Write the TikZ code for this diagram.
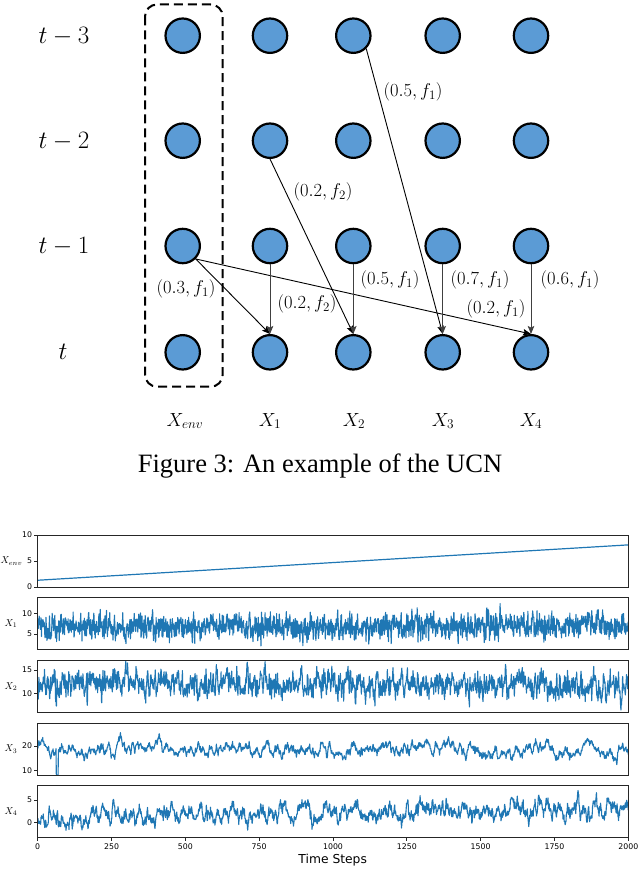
\RequirePackage{fix-cm}
\documentclass[tikz,border=0pt]{standalone}
\usepackage{fontspec}
\usetikzlibrary{arrows.meta}
\newfontfamily\capfont{Liberation Serif}
\newfontfamily\plotfont{DejaVu Sans}
\definecolor{nodeblue}{HTML}{5B9BD5}
\definecolor{tabblue}{HTML}{1F77B4}
\begin{document}
\begin{tikzpicture}[x=1pt,y=-1pt,
  var/.style={circle,draw=black,line width=2.2pt,fill=nodeblue,minimum size=34.4pt,inner sep=0pt},
  rowlab/.style={font=\fontsize{25}{30}\selectfont,inner sep=0pt},
  collab/.style={font=\fontsize{19}{22}\selectfont,inner sep=0pt},
  elab/.style={font=\fontsize{18.5}{22}\selectfont,inner sep=0pt},
  tip/.style={-{Stealth[length=8pt,width=6.5pt,inset=1.5pt]}},
  edge/.style={tip,line width=0.9pt},
  vedge/.style={tip,line width=1pt,draw=black!75},
  envbox/.style={draw=black,line width=2pt,dash pattern=on 9pt off 5pt,rounded corners=12pt},
  capt/.style={font=\capfont\fontsize{26.5}{30}\selectfont,inner sep=0pt},
  frame/.style={draw=black!85,line width=0.8pt},
  ser/.style={draw=tabblue,line width=1.1pt,line join=round},
  ytl/.style={font=\plotfont\fontsize{7.8}{9}\selectfont,anchor=east,inner sep=0pt,xshift=-5.5pt},
  xtl/.style={font=\plotfont\fontsize{7.8}{9}\selectfont,anchor=north,inner sep=0pt,yshift=-5.5pt},
  ylab/.style={font=\fontsize{10}{12}\selectfont,inner sep=0pt},
  xlab/.style={font=\plotfont\fontsize{12.3}{14}\selectfont,inner sep=0pt},
  tk/.style={draw=black!85,line width=0.7pt},
]
\useasboundingbox (0,0) rectangle (640,869);

% ---------- graph ----------
\draw[envbox] (145,4.5) rectangle (222.7,386.7);
\foreach \n/\x in {e/182.7,a/270,b/353.3,c/442.7,d/531}{
  \foreach \r/\y in {3/35.7,2/140.7,1/246,0/352.3}{
    \node[var] (\n\r) at (\x,\y) {};
  }
}
\node[rowlab] (r3) at (64,36) {$t-3$};
\node[rowlab] (r2) at (64,141) {$t-2$};
\node[rowlab] (r1) at (64,246) {$t-1$};
\node[rowlab] (r0) at (63,352) {$t$};

\node[collab] (ce) at (185,421) {$X_{env}$};
\node[collab] (ca) at (270,421) {$X_1$};
\node[collab] (cb) at (354,421) {$X_2$};
\node[collab] (cc) at (443,421) {$X_3$};
\node[collab] (cd) at (531,421) {$X_4$};

\draw[edge] (b3.-45) -- (c0.north);
\draw[edge] (a2.south) -- (b0.north);
\draw[edge] (e1.-45) -- (a0.north);
\draw[edge] (e1.-45) -- (d0.north);
\draw[vedge] (a1.south) -- (a0.north);
\draw[vedge] (b1.south) -- (b0.north);
\draw[vedge] (c1.south) -- (c0.north);
\draw[vedge] (d1.south) -- (d0.north);

\node[elab] (l1) at (413,92) {$(0.5,f_1)$};
\node[elab] (l2) at (323,192) {$(0.2,f_2)$};
\node[elab] (l3) at (186,289) {$(0.3,f_1)$};
\node[elab] (l4) at (307,304) {$(0.2,f_2)$};
\node[elab] (l5) at (390,280) {$(0.5,f_1)$};
\node[elab] (l6) at (480,280) {$(0.7,f_1)$};
\node[elab] (l7) at (570,280) {$(0.6,f_1)$};
\node[elab] (l8) at (496,309) {$(0.2,f_1)$};

\node[capt] (cap) at (320,466) {Figure 3: An example of the UCN};

% ---------- plots ----------
% Panel 1: X_env
\begin{scope}[shift={(37.7pt,-587pt)},x=0.2953pt,y=5.2pt]
  \draw[ser,line width=1.2pt] (0,1.3) -- (2000,8.1);
  \draw[frame] (0,0) rectangle (2000,10);
  \foreach \v in {0,5,10}{\draw[tk] (0,\v) -- ++(-3.5pt,0); \node[ytl] (pa\v) at (0,\v) {\v};}
\end{scope}
% Panel 2: X_1
\begin{scope}[shift={(37.7pt,-654.13pt)},x=0.2953pt,y=4.03pt]
  \begin{scope}
    \clip (0,1.1) rectangle (2000,14);
    \pgfmathsetseed{7}\gdef\ys{0}
    \draw[ser] (0,6.6) \foreach \i in {1,...,2000}{\pgfextra{\pgfmathsetmacro\tmp{0.3*\ys+1.6*(rand+rand+rand)}\global\let\ys\tmp} -- (\i,{6.6+0.6*\i/2000+\ys+ifthenelse(abs(\i-64)<3,-4,0)})};
  \end{scope}
  \draw[frame] (0,1.1) rectangle (2000,14);
  \foreach \v in {5,10}{\draw[tk] (0,\v) -- ++(-3.5pt,0); \node[ytl] (pb\v) at (0,\v) {\v};}
\end{scope}
% Panel 3: X_2
\begin{scope}[shift={(37.7pt,-739.79pt)},x=0.2953pt,y=4.643pt]
  \begin{scope}
    \clip (0,5.9) rectangle (2000,17.1);
    \pgfmathsetseed{23}\gdef\ys{0}
    \draw[ser] (0,12.3) \foreach \i in {1,...,2000}{\pgfextra{\pgfmathsetmacro\tmp{0.6*\ys+1.25*(rand+rand+rand)}\global\let\ys\tmp} -- (\i,{12.3-0.9*\i/2000+\ys+ifthenelse(abs(\i-62)<3,-6,0)+ifthenelse(abs(\i-168)<2,-5,0)})};
  \end{scope}
  \draw[frame] (0,5.9) rectangle (2000,17.1);
  \foreach \v in {10,15}{\draw[tk] (0,\v) -- ++(-3.5pt,0); \node[ytl] (pc\v) at (0,\v) {\v};}
\end{scope}
% Panel 4: X_3
\begin{scope}[shift={(37.7pt,-795.31pt)},x=0.2953pt,y=2.464pt]
  \begin{scope}
    \clip (0,8.2) rectangle (2000,29.3);
    \pgfmathsetseed{41}\gdef\ys{0}
    \draw[ser] (0,19) \foreach \i in {1,...,2000}{\pgfextra{\pgfmathsetmacro\tmp{0.9*\ys+0.8*(rand+rand+rand)}\global\let\ys\tmp} -- (\i,{18.8-0.8*\i/2000+\ys+ifthenelse(abs(\i-66)<4,-11,0)})};
  \end{scope}
  \draw[frame] (0,8.2) rectangle (2000,29.3);
  \foreach \v in {10,20}{\draw[tk] (0,\v) -- ++(-3.5pt,0); \node[ytl] (pd\v) at (0,\v) {\v};}
\end{scope}
% Panel 5: X_4
\begin{scope}[shift={(37.7pt,-822.75pt)},x=0.2953pt,y=4.561pt]
  \begin{scope}
    \clip (0,-3.3) rectangle (2000,8.1);
    \pgfmathsetseed{59}\gdef\ys{0}
    \draw[ser] (0,1) \foreach \i in {1,...,2000}{\pgfextra{\pgfmathsetmacro\tmp{0.85*\ys+0.7*(rand+rand+rand)}\global\let\ys\tmp} -- (\i,{0.9+2.4*\i/2000+\ys})};
  \end{scope}
  \draw[frame] (0,-3.3) rectangle (2000,8.1);
  \foreach \v in {0,5}{\draw[tk] (0,\v) -- ++(-3.5pt,0); \node[ytl] (pe\v) at (0,\v) {\v};}
  \foreach \v in {0,250,...,2000}{\draw[tk] (\v,-3.3) -- ++(0,-3.5pt); \node[xtl] (xt\v) at (\v,-3.3) {\v};}
\end{scope}

\node[ylab] (ya) at (11.5,561) {$X_{env}$};
\node[ylab] (yb) at (11,623.7) {$X_1$};
\node[ylab] (yc) at (11,686.4) {$X_2$};
\node[ylab] (yd) at (11,749.1) {$X_3$};
\node[ylab] (ye) at (11,811.8) {$X_4$};
\node[xlab] (xl) at (332.7,860.5) {Time Steps};
\end{tikzpicture}
\end{document}
